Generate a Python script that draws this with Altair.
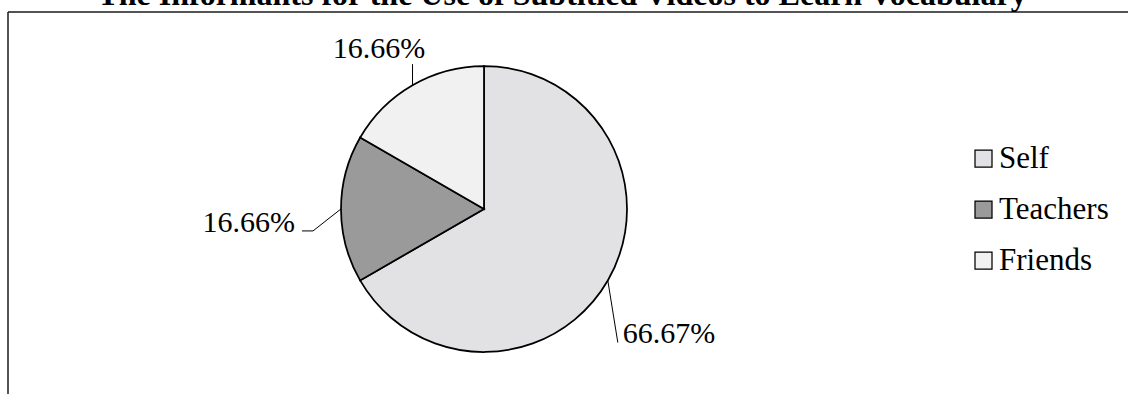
import math

import altair as alt
import pandas as pd

# ---- data -------------------------------------------------------------
categories = ["Self", "Teachers", "Friends"]
shares = [66.67, 16.66, 16.66]
slice_colors = ["#e2e2e5", "#9a9a9a", "#f1f1f1"]
title_text = "The Informants for the Use of Subtitled Videos to Learn Vocabulary"

# ---- layout -----------------------------------------------------------
W, H = 1128, 394
CX, CY, R = 484, 209, 143
SERIF = "Liberation Serif"

# label anchor relative to the slice's outer midpoint: (dx, dy, align)
label_offsets = {
    "Self": (15, 62.5, "left"),
    "Teachers": (-46, 23, "right"),
    "Friends": (-33.5, -27, "center"),
}
# leader line vertices relative to the slice's outer midpoint
leader_bends = {
    "Self": [(10, 62)],
    "Teachers": [(-28, 22), (-39, 22)],
    "Friends": [(0, -21)],
}

# ---- derived tables ---------------------------------------------------
pie_df = pd.DataFrame({"category": categories, "share": shares,
                       "idx": range(len(categories))})

total = sum(shares)
line_rows, label_rows = [], []
cum = 0.0
for cat, val in zip(categories, shares):
    mid = (cum + val / 2) / total * 2 * math.pi
    cum += val
    ex, ey = CX + R * math.sin(mid), CY - R * math.cos(mid)
    line_rows.append({"category": cat, "step": 0, "x": ex, "y": ey})
    for k, (dx, dy) in enumerate(leader_bends[cat], start=1):
        line_rows.append({"category": cat, "step": k, "x": ex + dx, "y": ey + dy})
    dx, dy, align = label_offsets[cat]
    label_rows.append({"category": cat, "label": f"{val:.2f}%",
                       "x": ex + dx, "y": ey + dy, "align": align})

lines_df = pd.DataFrame(line_rows)
labels_df = pd.DataFrame(label_rows)

x_px = alt.X("x:Q", scale=alt.Scale(domain=[0, W], range=[0, W], nice=False, zero=False), axis=None)
y_px = alt.Y("y:Q", scale=alt.Scale(domain=[0, H], range=[0, H], nice=False, zero=False), axis=None)

# ---- layers -----------------------------------------------------------
one = pd.DataFrame({"a": [0]})
frame_top = alt.Chart(one).mark_rule(color="#1a1a1a", strokeWidth=1.5).encode(
    x=alt.value(8), x2=alt.value(W), y=alt.value(12))
frame_left = alt.Chart(one).mark_rule(color="#1a1a1a", strokeWidth=1.5).encode(
    x=alt.value(8), y=alt.value(12), y2=alt.value(H))

pie = alt.Chart(pie_df).mark_arc(radius=R, stroke="black", strokeWidth=1.75).encode(
    theta=alt.Theta("share:Q", stack=True),
    order=alt.Order("idx:Q"),
    color=alt.Color(
        "category:N",
        scale=alt.Scale(domain=categories, range=slice_colors),
        legend=alt.Legend(
            title=None, orient="none", legendX=968, legendY=143,
            symbolType="square", symbolSize=289, symbolStrokeColor="black",
            symbolStrokeWidth=1.25, symbolOpacity=1,
            labelFont=SERIF, labelFontSize=31, labelColor="black",
            labelOffset=0, rowPadding=19, padding=0,
        ),
    ),
    x=alt.value(CX),
    y=alt.value(CY),
)

leaders = alt.Chart(lines_df).mark_line(color="black", strokeWidth=1).encode(
    x=x_px, y=y_px, detail="category:N", order="step:Q")

text_layers = []
for align in ["left", "right", "center"]:
    sub = labels_df[labels_df["align"] == align]
    text_layers.append(
        alt.Chart(sub).mark_text(align=align, baseline="alphabetic", font=SERIF,
                                 fontSize=30, color="black").encode(
            x=x_px, y=y_px, text="label:N"))

title = alt.Chart(pd.DataFrame({"t": [title_text]})).mark_text(
    align="center", baseline="alphabetic", font=SERIF, fontSize=32,
    fontWeight="bold", color="black").encode(
    x=alt.value(562), y=alt.value(5), text="t:N")

chart = alt.layer(frame_top, frame_left, pie, leaders, *text_layers, title).properties(
    width=W, height=H, padding=0, autosize="none",
    background="white",
).configure_view(stroke=None)

chart.save("out.html", embed_options={"renderer": "svg", "actions": False})
